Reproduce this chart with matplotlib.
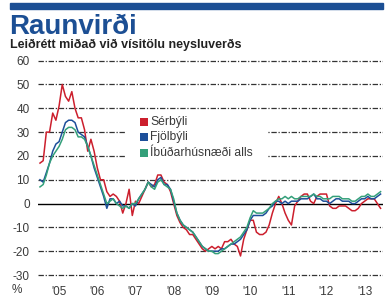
import matplotlib
matplotlib.use("Agg")
import matplotlib.pyplot as plt
from matplotlib.patches import Rectangle
from matplotlib import font_manager
import numpy as np

title = "Raunvirði"
subtitle = "Leiðrétt miðað við vísitölu neysluverðs"
series_names = ["Sérbýli", "Fjölbýli", "Íbúðarhúsnæði alls"]
year_labels = ["'05", "'06", "'07", "'08", "'09", "'10", "'11", "'12", "'13"]
y_ticks = [60, 50, 40, 30, 20, 10, 0, -10, -20, -30]

serbyli = [
    17, 18, 30, 30, 38, 35, 41, 50, 45, 43, 47, 40,
    36, 36, 31, 22, 27, 22, 15, 10, 10, 5, 3, 4,
    3, 1, -4, 0, 6, -5, 1, 0, 3, 6, 9, 7,
    8, 12, 12, 9, 8, 5, 0, -5, -8, -10, -11, -13,
    -13, -15, -17, -19, -20, -19, -18, -19, -18, -19, -16, -16,
    -15, -17, -18, -22, -15, -11, -7, -7, -12, -13, -13, -12,
    -9, -4, 0, 3, 0, -4, -7, -9, -1, 1, 3, 4,
    4, 1, 0, 3, 4, 4, 4, -1, -2, -2, -1, -1,
    -1, -2, -3, -3, -2, 0, 1, 2, 2, 2, 0, -2,
]
fjolbyli = [
    10, 9, 13, 17, 22, 25, 26, 30, 34, 35, 35, 34,
    30, 29, 28, 24, 20, 15, 11, 7, 3, -2, 2, 2,
    0, 1, -1, -1, -2, 0, -1, 2, 4, 6, 9, 8,
    7, 10, 11, 8, 8, 6, 1, -4, -7, -9, -10, -11,
    -12, -14, -16, -18, -19, -20, -20, -20, -20, -19, -19, -18,
    -17, -17, -16, -15, -13, -11, -7, -5, -5, -5, -5, -4,
    -2, -1, 1, 1, 0, 1, 0, 1, 1, 1, 2, 2,
    2, 3, 4, 2, 2, 1, 1, 0, 1, 2, 2, 1,
    1, 1, 0, 0, 1, 2, 2, 3, 2, 2, 3, 4,
]
alls = [
    7, 8, 12, 17, 20, 22, 24, 27, 31, 32, 32, 31,
    28, 28, 27, 24, 20, 16, 12, 8, 4, 0, 1, 2,
    0, -1, -2, -1, -2, 0, 0, 2, 4, 6, 9, 7,
    6, 9, 10, 8, 7, 6, 2, -4, -7, -9, -10, -11,
    -12, -14, -16, -18, -19, -20, -20, -21, -21, -20, -19, -18,
    -17, -16, -15, -14, -12, -10, -6, -3, -4, -4, -4, -3,
    -2, 0, 1, 2, 2, 3, 2, 3, 2, 2, 3, 3,
    3, 3, 4, 3, 3, 2, 2, 2, 3, 3, 3, 2,
    2, 2, 1, 1, 2, 3, 3, 4, 3, 3, 4, 5,
]

RED = "#cc1f2d"
BLUE = "#1d4f9a"
GREEN = "#34a07a"
TITLE_BLUE = "#1c4f94"
TEXT = "#3a3a3a"
colors = [RED, BLUE, GREEN]

names = {f.name for f in font_manager.fontManager.ttflist}
NARROW = "Liberation Sans Narrow" if "Liberation Sans Narrow" in names else "Liberation Sans"
FONT = "Liberation Sans"

W, H = 390, 301
fig = plt.figure(figsize=(W / 100, H / 100), dpi=100)

def fx(px):
    return px / W

def fy(py):
    return 1 - py / H

fig.patches.append(Rectangle((fx(10), fy(8.5)), fx(383) - fx(10), fy(3) - fy(8.5),
                             transform=fig.transFigure, color=TITLE_BLUE, zorder=5))
fig.text(fx(9), fy(34), title, fontsize=20, fontweight="bold", color=TITLE_BLUE,
         family=FONT, ha="left", va="baseline")
fig.text(fx(10), fy(48), subtitle, fontsize=9, fontweight="bold", color="#222222",
         family=FONT, ha="left", va="baseline")

ax_left, ax_right = 38, 383
ax_top, ax_bot = 58.3, 277.4
ax = fig.add_axes([fx(ax_left), fy(ax_bot), (ax_right - ax_left) / W, (ax_bot - ax_top) / H])
ax.set_xlim(2004.948, 2013.98)
ax.set_ylim(-31, 61)
for s in ax.spines.values():
    s.set_visible(False)

dash = (0, (4.3, 1.4, 1.0, 1.4))
for v in y_ticks:
    if v == 0:
        ax.axhline(0, color="black", lw=1.0, zorder=1)
    else:
        ax.axhline(v, color="#333333", lw=0.9, linestyle=dash, zorder=1)

x = 2005 + np.arange(len(serbyli)) / 12.0
for vals, c in zip([serbyli, fjolbyli, alls], colors):
    ax.plot(x, vals, color=c, lw=1.1, zorder=3)

ax.add_patch(Rectangle((0.252, 0.527), 0.664 - 0.252, 0.742 - 0.527, transform=ax.transAxes,
                       facecolor="white", edgecolor="none", zorder=2))
leg_y = [0.7096, 0.641, 0.568]
for name, c, yy in zip(series_names, colors, leg_y):
    ax.add_patch(Rectangle((0.296, yy - 0.018), 0.0232, 0.0365, transform=ax.transAxes,
                           facecolor=c, edgecolor="none", zorder=4))
    ax.text(0.3246, yy, name, transform=ax.transAxes, fontsize=8.7, family=NARROW,
            color=TEXT, ha="left", va="center", zorder=4)

ax.set_yticks(y_ticks)
ax.set_yticklabels([str(v) for v in y_ticks], fontsize=8.5, family=FONT, color=TEXT)
ax.set_xticks([2005.5 + i for i in range(len(year_labels))])
ax.set_xticklabels(year_labels, fontsize=8.5, family=FONT, color=TEXT)
ax.tick_params(axis="y", length=0, pad=6)
ax.tick_params(axis="x", length=0, pad=6)

fig.text(fx(17), fy(290), "%", fontsize=8.5, family=FONT, color=TEXT, ha="center", va="center")

fig.savefig("out.png", dpi=100)
